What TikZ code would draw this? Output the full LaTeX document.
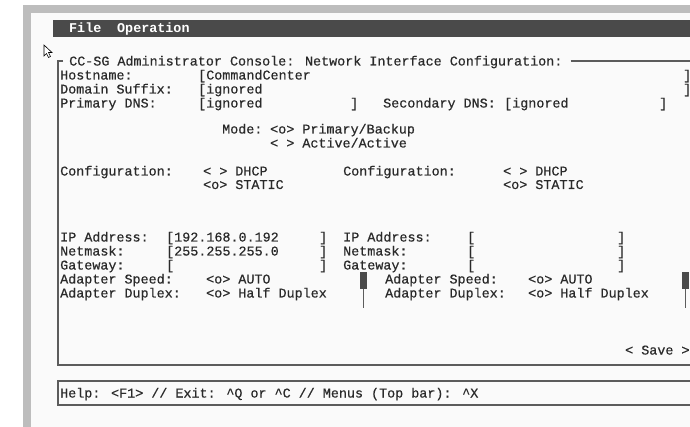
\documentclass[tikz,border=0pt]{standalone}
\usepackage{fontspec}
\setmainfont{Liberation Mono}
\newfontfamily\scrfont[FakeBold=0.5]{Liberation Mono}
\definecolor{pagebg}{HTML}{FFFFFF}
\definecolor{screenbg}{HTML}{FAFAFA}
\definecolor{bordergray}{HTML}{BDBDBD}
\definecolor{menubg}{HTML}{4A4A4A}
\definecolor{framec}{HTML}{5C5C5C}
\definecolor{txtc}{HTML}{2A2A2A}
\definecolor{blockc}{HTML}{4A4A4A}
\newcommand{\mycaret}{\textasciicircum}
\begin{document}
\begin{tikzpicture}[x=1pt,y=-1pt,
  t/.style={inner sep=0pt, anchor=base west, font=\scrfont\fontsize{13.4}{14}\selectfont, text=txtc},
  mt/.style={t, text=white, font=\fontsize{13.4}{14}\selectfont\bfseries},
  frm/.style={draw=framec, line width=1.4pt},
  blk/.style={fill=blockc}]
\useasboundingbox (0,0) rectangle (690,427);
\fill[pagebg] (0,0) rectangle (690,427);
\fill[screenbg] (31,13) rectangle (690,427);
\fill[bordergray] (23,5) rectangle (690,13);
\fill[bordergray] (23,5) rectangle (31,427);
% menu bar
\fill[menubg] (53,20) rectangle (690,37);
\node[mt] (mfile) at (69,33) {File};
\node[mt] (mop) at (117,33) {Operation};
% mouse cursor
\draw[black, fill=white, line width=0.6pt] (44,45) -- (44,56) -- (46.5,53.5) -- (48.5,57.5) -- (50.5,56.5) -- (48.5,52.5) -- (52,52.5) -- cycle;
% frame
\node[t] (title) at (69,65.5) {CC-SG Administrator Console: Network Interface Configuration:};
\draw[frm] (63,61) -- (58,61) -- (58,365) -- (690,365);
\draw[frm] ([xshift=8pt]title.east |- 0,61) -- (690,61);
% rows
\node[t] (host) at (60,79.5) {Hostname:};
\node[t] (hostv) at (198,79.5) {[CommandCenter};
\node[t] (hostr) at (683,79.5) {]};
\node[t] (dom) at (60,93.5) {Domain Suffix:};
\node[t] (domv) at (198,93.5) {[ignored};
\node[t] (domr) at (683,93.5) {]};
\node[t] (pdns) at (60,107.5) {Primary DNS:};
\node[t] (pdnsv) at (198,107.5) {[ignored};
\node[t] (pdnsr) at (350,107.5) {]};
\node[t] (sdns) at (383,107.5) {Secondary DNS:};
\node[t] (sdnsv) at (504,107.5) {[ignored};
\node[t] (sdnsr) at (659,107.5) {]};
\node[t] (mode) at (222,133.5) {Mode:};
\node[t] (mode1) at (270,133.5) {<o> Primary/Backup};
\node[t] (mode2) at (270,147.5) {< > Active/Active};
\node[t] (cfgl) at (60,175.5) {Configuration:};
\node[t] (dhcpl) at (203,175.5) {< > DHCP};
\node[t] (statl) at (203,189) {<o> STATIC};
\node[t] (cfgr) at (343,175.5) {Configuration:};
\node[t] (dhcpr) at (503,175.5) {< > DHCP};
\node[t] (statr) at (503,189) {<o> STATIC};
\node[t] (ipl) at (60,241.5) {IP Address:};
\node[t] (iplv) at (166,241.5) {[192.168.0.192};
\node[t] (iplr) at (319,241.5) {]};
\node[t] (ipr) at (343,241.5) {IP Address:};
\node[t] (iprv) at (467,241.5) {[};
\node[t] (iprr) at (617,241.5) {]};
\node[t] (nml) at (60,255.5) {Netmask:};
\node[t] (nmlv) at (166,255.5) {[255.255.255.0};
\node[t] (nmlr) at (319,255.5) {]};
\node[t] (nmr) at (343,255.5) {Netmask:};
\node[t] (nmrv) at (467,255.5) {[};
\node[t] (nmrr) at (617,255.5) {]};
\node[t] (gwl) at (60,269.5) {Gateway:};
\node[t] (gwlv) at (166,269.5) {[};
\node[t] (gwlr) at (319,269.5) {]};
\node[t] (gwr) at (343,269.5) {Gateway:};
\node[t] (gwrv) at (467,269.5) {[};
\node[t] (gwrr) at (617,269.5) {]};
\node[t] (spl) at (60,283.5) {Adapter Speed:};
\node[t] (splv) at (206,283.5) {<o> AUTO};
\node[t] (spr) at (385,283.5) {Adapter Speed:};
\node[t] (sprv) at (528,283.5) {<o> AUTO};
\node[t] (dpl) at (60,297.5) {Adapter Duplex:};
\node[t] (dplv) at (206,297.5) {<o> Half Duplex};
\node[t] (dpr) at (385,297.5) {Adapter Duplex:};
\node[t] (dprv) at (528,297.5) {<o> Half Duplex};
% scroll markers
\fill[blk] (360,272) rectangle (367,289);
\draw[framec, line width=1.2pt] (363.5,289) -- (363.5,308);
\fill[blk] (682,272) rectangle (689,289);
\draw[framec, line width=1.2pt] (685.5,289) -- (685.5,308);
\node[t] (save) at (625,354.5) {< Save >};
% help box
\draw[frm] (690,381) -- (58,381) -- (58,405) -- (690,405);
\node[t] (help) at (60,397.5) {Help: <F1> //  Exit: \mycaret Q or \mycaret C // Menus (Top bar):  \mycaret X};
\end{tikzpicture}
\end{document}
